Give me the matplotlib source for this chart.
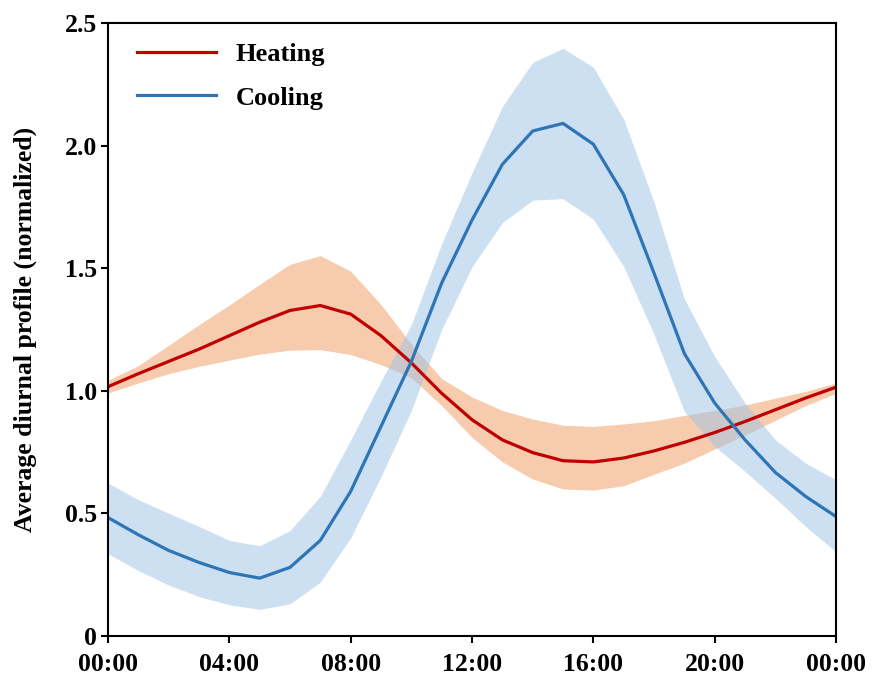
import numpy as np
import matplotlib.pyplot as plt

plt.rcParams['font.family'] = ['Liberation Serif', 'DejaVu Serif']
plt.rcParams['font.weight'] = 'bold'

hours = np.arange(25)

heat_mean = [1.017, 1.07, 1.12, 1.17, 1.225, 1.28, 1.328, 1.348, 1.313, 1.225, 1.114,
             0.99, 0.882, 0.80, 0.748, 0.715, 0.71, 0.726, 0.755, 0.79, 0.83,
             0.875, 0.923, 0.971, 1.015]
heat_upper = [1.043, 1.103, 1.186, 1.27, 1.35, 1.435, 1.516, 1.552, 1.488, 1.352, 1.19,
              1.05, 0.975, 0.92, 0.885, 0.86, 0.855, 0.865, 0.878, 0.90, 0.92,
              0.942, 0.97, 0.998, 1.032]
heat_lower = [0.991, 1.032, 1.07, 1.10, 1.125, 1.15, 1.166, 1.168, 1.148, 1.107, 1.053,
              0.94, 0.81, 0.71, 0.64, 0.60, 0.595, 0.613, 0.66, 0.705, 0.763,
              0.82, 0.88, 0.94, 0.99]

cool_mean = [0.483, 0.413, 0.349, 0.30, 0.259, 0.236, 0.28, 0.39, 0.59, 0.855, 1.12,
             1.44, 1.697, 1.924, 2.06, 2.091, 2.006, 1.80, 1.48, 1.152, 0.95,
             0.80, 0.667, 0.569, 0.487]
cool_upper = [0.624, 0.556, 0.501, 0.447, 0.39, 0.368, 0.43, 0.57, 0.80, 1.04, 1.27,
              1.60, 1.89, 2.16, 2.34, 2.397, 2.32, 2.108, 1.77, 1.375, 1.14,
              0.95, 0.80, 0.705, 0.637]
cool_lower = [0.335, 0.267, 0.208, 0.161, 0.127, 0.109, 0.131, 0.22, 0.40, 0.65, 0.92,
              1.25, 1.506, 1.686, 1.778, 1.784, 1.70, 1.507, 1.23, 0.916, 0.773,
              0.671, 0.562, 0.446, 0.344]

xticks = [0, 4, 8, 12, 16, 20, 24]
xtick_labels = ['00:00', '04:00', '08:00', '12:00', '16:00', '20:00', '00:00']
yticks = [0, 0.5, 1.0, 1.5, 2.0, 2.5]
ytick_labels = ['0', '0.5', '1.0', '1.5', '2.0', '2.5']

fig = plt.figure(figsize=(8.73, 6.8), dpi=100)
ax = fig.add_axes([0.1237, 0.0647, 0.834, 0.9013])

ax.fill_between(hours, heat_lower, heat_upper, color='#F4B183', alpha=0.65, linewidth=0)
ax.fill_between(hours, cool_lower, cool_upper, color='#9DC3E6', alpha=0.5, linewidth=0)
ax.plot(hours, heat_mean, color='#C00000', linewidth=2.3, label='Heating')
ax.plot(hours, cool_mean, color='#2E75B6', linewidth=2.3, label='Cooling')

ax.set_xlim(0, 24)
ax.set_ylim(0, 2.5)
ax.set_xticks(xticks)
ax.set_xticklabels(xtick_labels, fontsize=18.5, fontweight='bold')
ax.set_yticks(yticks)
ax.set_yticklabels(ytick_labels, fontsize=18.5, fontweight='bold')
ax.tick_params(direction='out', length=5, width=1.5)
ax.tick_params(axis='y', pad=3)
ax.tick_params(axis='x', pad=7)
for s in ax.spines.values():
    s.set_linewidth(1.5)

ax.set_ylabel('Average diurnal profile (normalized)', fontsize=18.5, fontweight='bold', labelpad=20)

leg = ax.legend(loc='upper left', bbox_to_anchor=(0, 1.015), frameon=False, handlelength=3.0,
                handletextpad=0.75, borderaxespad=0.7, labelspacing=0.75,
                prop={'weight': 'bold', 'size': 19})

plt.savefig('out.png', dpi=100)
plt.close(fig)
